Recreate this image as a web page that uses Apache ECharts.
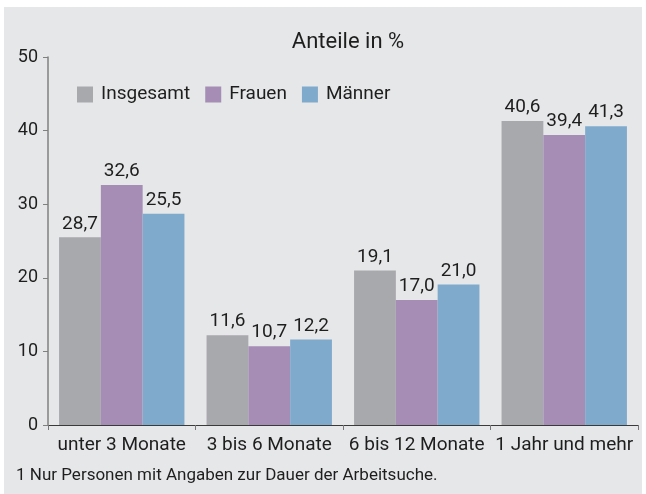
<!DOCTYPE html>
<html>
<head>
<meta charset="utf-8">
<script src="https://cdn.jsdelivr.net/npm/echarts@6/dist/echarts.min.js"></script>
<style>
html,body{margin:0;padding:0;background:#ffffff;}
#c{width:646px;height:494px;}
</style>
</head>
<body>
<div id="c"></div>
<script>
var categories = ['unter 3 Monate', '3 bis 6 Monate', '6 bis 12 Monate', '1 Jahr und mehr'];
var seriesNames = ['Insgesamt', 'Frauen', 'Männer'];
// bar heights as drawn in the picture
var insgesamt = [25.5, 12.2, 21.0, 41.3];
var frauen = [32.6, 10.7, 17.0, 39.4];
var maenner = [28.7, 11.6, 19.1, 40.6];
// value labels as printed in the picture
var insgesamtLabels = ['28,7', '11,6', '19,1', '40,6'];
var frauenLabels = ['32,6', '10,7', '17,0', '39,4'];
var maennerLabels = ['25,5', '12,2', '21,0', '41,3'];
var yTicks = [0, 10, 20, 30, 40, 50];
var titleText = 'Anteile in %';
var footnote = '1 Nur Personen mit Angaben zur Dauer der Arbeitsuche.';

var FONT = 'Roboto';
var TXT = '#1e1e1e';
var colors = ['#a8a9ac', '#a68db5', '#80aacc'];

function mkSeries(name, data, labels, color) {
  return {
    name: name,
    type: 'bar',
    data: data,
    barGap: '0%',
    barCategoryGap: '15%',
    itemStyle: { color: color },
    label: {
      show: true,
      position: 'top',
      distance: 4,
      color: TXT,
      fontFamily: FONT,
      fontSize: 19,
      formatter: function (p) { return labels[p.dataIndex]; }
    },
    emphasis: { disabled: true }
  };
}

var chart = echarts.init(document.getElementById('c'), null, { renderer: 'canvas' });
chart.setOption({
  animation: false,
  backgroundColor: 'transparent',
  graphic: [
    { type: 'rect', z: -10, silent: true, shape: { x: 4, y: 7, width: 638, height: 487 }, style: { fill: '#e6e7e9' } },
    { type: 'text', silent: true, x: 16, y: 476, style: { text: footnote, fill: TXT, fontFamily: FONT, fontSize: 17, verticalAlign: 'middle', align: 'left' } }
  ],
  title: {
    text: titleText,
    left: 343,
    top: 26,
    textAlign: 'center',
    textStyle: { fontFamily: FONT, fontSize: 22, fontWeight: 'normal', color: TXT }
  },
  legend: {
    data: seriesNames,
    left: 77,
    top: 85,
    itemWidth: 16,
    itemHeight: 16,
    itemGap: 15,
    icon: 'rect',
    padding: 0,
    textStyle: { fontFamily: FONT, fontSize: 19, color: TXT, padding: [0, 0, 0, 3] }
  },
  grid: { left: 48, right: 8, top: 57, bottom: 69, containLabel: false },
  xAxis: {
    type: 'category',
    data: categories,
    axisLine: { lineStyle: { color: '#3a3a3a', width: 1 } },
    axisTick: { show: true, length: 5, lineStyle: { color: '#777' } },
    axisLabel: { color: TXT, fontFamily: FONT, fontSize: 19, margin: 11, interval: 0, hideOverlap: false }
  },
  yAxis: {
    type: 'value',
    min: yTicks[0],
    max: yTicks[yTicks.length - 1],
    interval: yTicks[1] - yTicks[0],
    axisLine: { show: true, lineStyle: { color: '#808080', width: 1.5 } },
    axisTick: { show: true, length: 5, lineStyle: { color: '#808080' } },
    splitLine: { show: false },
    axisLabel: { color: TXT, fontFamily: FONT, fontSize: 18, margin: 10 }
  },
  series: [
    mkSeries(seriesNames[0], insgesamt, insgesamtLabels, colors[0]),
    mkSeries(seriesNames[1], frauen, frauenLabels, colors[1]),
    mkSeries(seriesNames[2], maenner, maennerLabels, colors[2])
  ]
});
</script>
</body>
</html>
